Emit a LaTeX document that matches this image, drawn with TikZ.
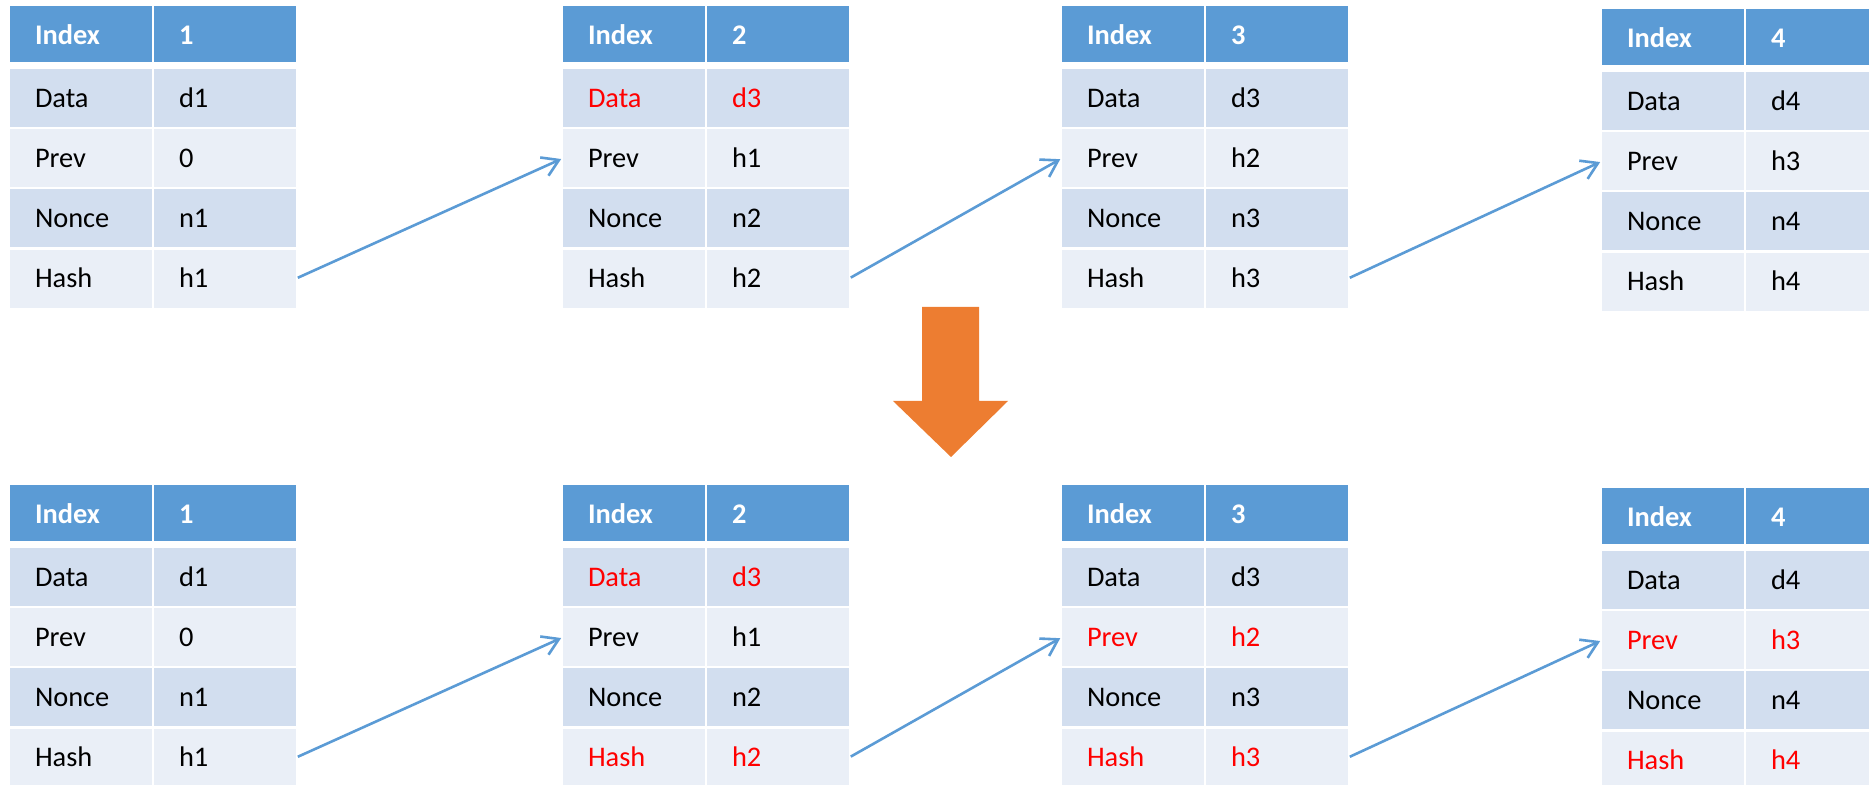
\documentclass[tikz,border=0pt]{standalone}
\usepackage{fontspec}
\setmainfont{Carlito}
\usetikzlibrary{arrows.meta}
\definecolor{hdr}{HTML}{5B9BD5}
\definecolor{bandA}{HTML}{D2DEEF}
\definecolor{bandB}{HTML}{EAEFF7}
\definecolor{orng}{HTML}{ED7D31}
\definecolor{lnk}{HTML}{5B9BD5}
\definecolor{chg}{HTML}{FF0000}
\tikzset{
  cell/.style={anchor=north west, minimum height=29pt, inner xsep=12.5pt, inner ysep=0pt,
    text width=46pt, text height=9.3pt, text depth=0pt, align=left,
    font=\fontsize{14.2}{17}\selectfont, outer sep=0pt},
  hcell/.style={cell, fill=hdr, text=white, minimum height=28pt, text height=11pt,
    font=\fontsize{14.2}{17}\selectfont\bfseries},
  link/.style={draw=lnk, line width=1.3pt, shorten <=1pt, shorten >=1pt,
    -{Straight Barb[length=8pt,width=10pt,line width=1.3pt]}},
  bigarrow/.style={fill=orng, draw=none}
}
\newcommand\blk[5]{%
  \node[hcell] (#1-h1) at (#2,#3) {Index};
  \node[hcell] (#1-h2) at (#2+144,#3) {#4};
  \foreach \lab/\val/\cc [count=\i] in {#5} {
    \pgfmathsetmacro\rowtop{#3+63+60.2*(\i-1)}
    \pgfmathtruncatemacro\odd{mod(\i,2)}
    \ifnum\odd=1 \def\bnd{bandA}\else\def\bnd{bandB}\fi
    \node[cell, fill=\bnd, text=\cc] (#1-r\i-1) at (#2,\rowtop) {\lab};
    \node[cell, fill=\bnd, text=\cc] (#1-r\i-2) at (#2+144,\rowtop) {\val};
  }%
}
\begin{document}
\begin{tikzpicture}[x=0.5pt,y=-0.5pt]
\useasboundingbox (0,0) rectangle (1869,785);
\clip (0,0) rectangle (1869,785);
% top chain
\blk{a}{10}{6}{1}{Data/d1/black, Prev/0/black, Nonce/n1/black, Hash/h1/black}
\blk{b}{563}{6}{2}{Data/d3/chg, Prev/h1/black, Nonce/n2/black, Hash/h2/black}
\blk{c}{1062}{6}{3}{Data/d3/black, Prev/h2/black, Nonce/n3/black, Hash/h3/black}
\blk{d}{1602}{9}{4}{Data/d4/black, Prev/h3/black, Nonce/n4/black, Hash/h4/black}
\draw[link] (a-r4-2.east) -- (b-r2-1.west);
\draw[link] (b-r4-2.east) -- (c-r2-1.west);
\draw[link] (c-r4-2.east) -- (d-r2-1.west);
% orange arrow
\fill[bigarrow] (922,307) -- (979,307) -- (979,401) -- (1008,401) -- (951,457) -- (893,401) -- (922,401) -- cycle;
% bottom chain
\blk{e}{10}{485}{1}{Data/d1/black, Prev/0/black, Nonce/n1/black, Hash/h1/black}
\blk{f}{563}{485}{2}{Data/d3/chg, Prev/h1/black, Nonce/n2/black, Hash/h2/chg}
\blk{g}{1062}{485}{3}{Data/d3/black, Prev/h2/chg, Nonce/n3/black, Hash/h3/chg}
\blk{h}{1602}{488}{4}{Data/d4/black, Prev/h3/chg, Nonce/n4/black, Hash/h4/chg}
\draw[link] (e-r4-2.east) -- (f-r2-1.west);
\draw[link] (f-r4-2.east) -- (g-r2-1.west);
\draw[link] (g-r4-2.east) -- (h-r2-1.west);
\end{tikzpicture}
\end{document}
